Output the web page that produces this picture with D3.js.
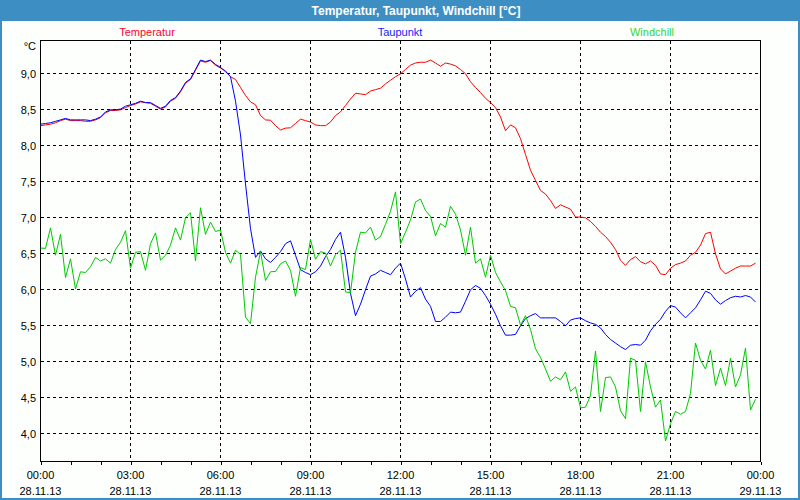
<!DOCTYPE html>
<html><head><meta charset="utf-8">
<script src="https://cdn.jsdelivr.net/npm/d3@7"></script>
<style>
html,body{margin:0;padding:0;background:#fcfffc;}
svg{display:block;font-family:Tahoma,"Liberation Sans",Arial,sans-serif;}
</style></head><body>
<svg id="chart" width="800" height="500"></svg>
<script>
const title = "Temperatur, Taupunkt, Windchill [°C]";
const seriesNames = ["Temperatur", "Taupunkt", "Windchill"];
const unitLabel = "°C";
const xTickHours = [0, 3, 6, 9, 12, 15, 18, 21, 24];
const xTimeLabels = ["00:00", "03:00", "06:00", "09:00", "12:00", "15:00", "18:00", "21:00", "00:00"];
const xDateLabels = ["28.11.13", "28.11.13", "28.11.13", "28.11.13", "28.11.13", "28.11.13", "28.11.13", "28.11.13", "29.11.13"];
const yTicks = [4.0, 4.5, 5.0, 5.5, 6.0, 6.5, 7.0, 7.5, 8.0, 8.5, 9.0];
const sampleMinutes = 10;

const temperatur = [
 8.28,8.29,8.30,8.32,8.35,8.37,8.35,8.35,8.35,8.34,8.34,8.36,8.39,8.46,8.49,8.49,8.50,8.53,8.56,8.58,
 8.61,8.60,8.59,8.55,8.51,8.54,8.62,8.66,8.75,8.87,8.92,9.05,9.18,9.16,9.185,9.12,9.08,9.04,8.96,8.92,
 8.81,8.70,8.61,8.57,8.42,8.36,8.355,8.28,8.22,8.245,8.25,8.31,8.37,8.35,8.33,8.29,8.28,8.28,8.33,8.42,
 8.47,8.56,8.65,8.73,8.72,8.71,8.76,8.78,8.80,8.86,8.91,8.96,9.00,9.06,9.12,9.15,9.16,9.16,9.19,9.15,
 9.105,9.15,9.135,9.11,9.06,9.00,8.89,8.81,8.74,8.66,8.60,8.53,8.40,8.21,8.29,8.25,8.10,7.88,7.66,7.52,
 7.38,7.33,7.24,7.13,7.18,7.15,7.12,7.01,7.01,7.00,6.95,6.88,6.80,6.74,6.66,6.56,6.41,6.34,6.42,6.46,
 6.39,6.36,6.40,6.34,6.22,6.21,6.30,6.35,6.37,6.40,6.48,6.52,6.62,6.78,6.80,6.50,6.29,6.22,6.26,6.30,
 6.33,6.33,6.33,6.37
];
const taupunkt = [
 8.30,8.31,8.32,8.34,8.36,8.38,8.36,8.36,8.36,8.36,8.35,8.37,8.40,8.47,8.50,8.50,8.51,8.55,8.57,8.59,
 8.62,8.60,8.60,8.56,8.52,8.55,8.63,8.67,8.76,8.88,8.93,9.06,9.19,9.17,9.19,9.13,9.09,9.03,8.96,8.62,
 8.15,7.47,6.85,6.45,6.54,6.43,6.38,6.45,6.53,6.64,6.68,6.48,6.28,6.24,6.21,6.25,6.33,6.46,6.56,6.70,
 6.80,6.45,5.95,5.64,5.80,6.00,6.19,6.22,6.27,6.24,6.21,6.30,6.37,6.15,5.90,5.98,6.03,5.87,5.77,5.56,
 5.56,5.62,5.69,5.68,5.69,5.84,6.00,6.06,6.02,5.92,5.80,5.66,5.50,5.37,5.37,5.38,5.50,5.60,5.64,5.67,
 5.61,5.61,5.61,5.61,5.56,5.50,5.58,5.60,5.61,5.57,5.54,5.52,5.47,5.38,5.31,5.26,5.21,5.17,5.23,5.24,
 5.23,5.30,5.43,5.52,5.59,5.70,5.78,5.76,5.68,5.61,5.68,5.75,5.86,5.98,5.95,5.86,5.80,5.85,5.89,5.91,
 5.90,5.92,5.90,5.83
];
const windchill = [
 6.58,6.575,6.86,6.48,6.77,6.17,6.43,6.01,6.25,6.24,6.32,6.45,6.40,6.43,6.37,6.56,6.66,6.82,6.30,6.52,
 6.53,6.27,6.64,6.79,6.41,6.48,6.62,6.86,6.69,7.00,7.07,6.40,7.14,6.77,6.94,6.81,6.83,6.52,6.37,6.55,
 6.49,5.62,5.53,6.175,6.53,6.13,6.25,6.255,6.36,6.40,6.27,5.91,6.31,6.28,6.70,6.425,6.53,6.51,6.33,6.49,
 6.55,5.97,5.96,6.52,6.80,6.79,6.87,6.69,6.74,6.91,7.09,7.36,6.64,6.80,6.97,7.22,7.26,7.10,7.02,6.75,
 6.92,6.87,7.16,7.05,6.83,6.48,6.87,6.37,6.43,6.175,6.48,6.24,6.11,5.99,5.77,5.75,5.51,5.64,5.45,5.18,
 5.06,4.90,4.73,4.79,4.75,4.86,4.59,4.65,4.36,4.37,4.53,5.15,4.31,4.78,4.79,4.65,4.32,4.21,5.05,5.02,
 4.31,5.00,4.65,4.37,4.47,3.90,4.14,4.31,4.27,4.31,4.56,5.26,5.02,4.90,5.16,4.67,4.91,4.67,5.05,4.65,
 4.82,5.19,4.33,4.48
];

const lineColors = ["#ff0000", "#0000ff", "#00c800"];
const legendColors = ["#ff0033", "#1a1aff", "#33d633"];
const frameBlue = "#3d8fc3";

const svg = d3.select("#chart");
const W = 800, H = 500;
const plot = {left: 40.5, right: 760.5, top: 40.5, bottom: 461.5};

svg.append("rect").attr("width", W).attr("height", H).attr("fill", "#fcfffc");
// title bar
svg.append("rect").attr("x", 0).attr("y", 0).attr("width", W).attr("height", 21).attr("fill", frameBlue);
svg.append("text").attr("x", 416).attr("y", 15).attr("text-anchor", "middle")
  .attr("fill", "#ffffff").attr("font-weight", "bold").attr("font-size", 12).text(title);
// window border
svg.append("path").attr("d", `M1,21 V499 H799 V21`).attr("fill", "none")
  .attr("stroke", frameBlue).attr("stroke-width", 2);

const x = d3.scaleLinear().domain([0, 24]).range([plot.left, plot.right]);
const y = d3.scaleLinear().domain([3.615, 9.4625]).range([plot.bottom, plot.top]);
const snap = v => Math.round(v - 0.5) + 0.5;

// grid
const grid = svg.append("g").attr("stroke", "#000").attr("stroke-width", 1)
  .attr("stroke-dasharray", "3,3").attr("shape-rendering", "crispEdges");
grid.selectAll("line.h").data(yTicks).join("line")
  .attr("x1", plot.left).attr("x2", plot.right)
  .attr("y1", d => snap(y(d))).attr("y2", d => snap(y(d)));
grid.selectAll("line.v").data(xTickHours.slice(1, -1)).join("line")
  .attr("y1", plot.top).attr("y2", plot.bottom)
  .attr("x1", d => snap(x(d))).attr("x2", d => snap(x(d)));

// frame
svg.append("rect").attr("x", plot.left).attr("y", plot.top)
  .attr("width", plot.right - plot.left).attr("height", plot.bottom - plot.top)
  .attr("fill", "none").attr("stroke", "#000").attr("stroke-width", 1).attr("shape-rendering", "crispEdges");

// x axis ticks (hourly) via d3 axis
const xAxis = d3.axisBottom(x).tickValues(d3.range(0, 25, 1)).tickSize(3).tickFormat("");
const gx = svg.append("g").attr("transform", `translate(0,${plot.bottom})`).call(xAxis);
gx.select(".domain").remove();
gx.selectAll("line").attr("stroke", "#000").attr("shape-rendering", "crispEdges");

const labels = svg.append("g").attr("font-size", 11).attr("fill", "#000");
labels.selectAll("text.t").data(xTickHours).join("text")
  .attr("x", d => x(d)).attr("y", 479).attr("text-anchor", "middle")
  .text((d, i) => xTimeLabels[i]);
labels.selectAll("text.d").data(xTickHours).join("text")
  .attr("x", d => x(d)).attr("y", 495).attr("text-anchor", "middle")
  .text((d, i) => xDateLabels[i]);

// y labels
const fmt = v => d3.format(".1f")(v).replace(".", ",");
labels.selectAll("text.y").data(yTicks).join("text")
  .attr("x", 36).attr("y", d => y(d) + 4).attr("text-anchor", "end")
  .text(fmt);
labels.append("text").attr("x", 36).attr("y", 50).attr("text-anchor", "end").text(unitLabel);

// legend
const legendX = [147, 400, 652];
svg.selectAll("text.leg").data(seriesNames).join("text")
  .attr("x", (d, i) => legendX[i]).attr("y", 36).attr("text-anchor", "middle")
  .attr("font-size", 11).attr("fill", (d, i) => legendColors[i]).text(d => d);

// lines
const line = d3.line().x((d, i) => x(i * sampleMinutes / 60)).y(d => y(d));
const order = [temperatur, taupunkt, windchill];
order.forEach((s, k) => {
  svg.append("path").datum(s).attr("d", line).attr("fill", "none")
    .attr("stroke", lineColors[k]).attr("stroke-width", 1);
});
</script>
</body></html>
